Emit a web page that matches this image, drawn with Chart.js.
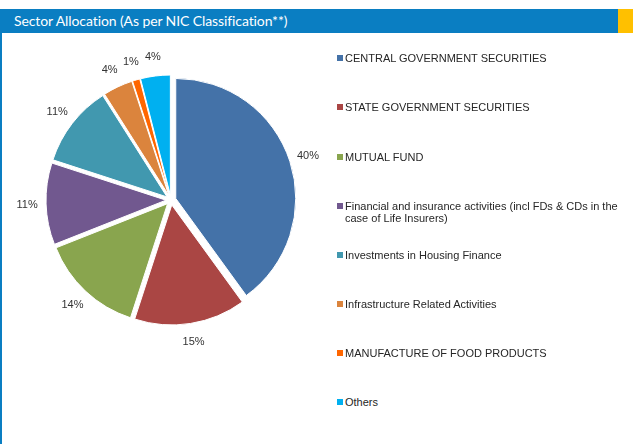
<!DOCTYPE html>
<html lang="en">
<head>
    <meta charset="UTF-8">
    <title>Sector Allocation</title>
    <script src="https://cdn.jsdelivr.net/npm/chart.js"></script>
    <style>
        body { margin: 0; width: 633px; height: 444px; position: relative; background: #fff; overflow: hidden; }
        .bar { position: absolute; top: 9px; left: 0; width: 618px; height: 24px; background: #0a7ec2; }
        .bar span { position: absolute; left: 14px; top: 3px; color: #fff; font-family: Lato, sans-serif; font-size: 14px; letter-spacing: -0.1px; }
        .tab { position: absolute; top: 9px; left: 618px; width: 15px; height: 24px; background: #ffc000; }
        .edge { position: absolute; top: 33px; left: 0; width: 2px; height: 411px; background: #0a7ec2; }
        #chartBox { position: absolute; left: 0; top: 33px; width: 342px; height: 334px; }
        #legend { position: absolute; left: 337px; top: 0; width: 290px; font-family: "Liberation Sans", Arial, sans-serif; font-size: 11px; color: #262626; }
        #legend div { position: absolute; left: 0; width: 285px; line-height: 12px; }
        #legend i { position: absolute; left: 0; top: 3px; width: 6px; height: 6px; }
        #legend div span { display: block; margin-left: 8px; }
    </style>
</head>
<body>
    <div class="bar"><span>Sector Allocation (As per NIC Classification**)</span></div>
    <div class="tab"></div>
    <div class="edge"></div>
    <div id="chartBox"><canvas id="sectorChart"></canvas></div>
    <div id="legend"></div>

    <script>
        // sector labels and share of portfolio (%)
        const sectors = [
            'CENTRAL GOVERNMENT SECURITIES',
            'STATE GOVERNMENT SECURITIES',
            'MUTUAL FUND',
            'Financial and insurance activities (incl FDs & CDs in the case of Life Insurers)',
            'Investments in Housing Finance',
            'Infrastructure Related Activities',
            'MANUFACTURE OF FOOD PRODUCTS',
            'Others'
        ];
        const shares = [40, 15, 14, 11, 11, 4, 1, 4];
        const colours = ['#4472a8', '#aa4644', '#89a54e', '#71588f', '#4198af', '#db843d', '#ff6600', '#00b0f0'];

        const EXPLODE = 5;

        // draw each slice pushed out along its middle angle (exploded pie)
        const explode = {
            id: 'explode',
            beforeDatasetsDraw(chart) {
                const ctx = chart.ctx;
                chart.getDatasetMeta(0).data.forEach(arc => {
                    const mid = (arc.startAngle + arc.endAngle) / 2;
                    ctx.save();
                    ctx.translate(Math.cos(mid) * EXPLODE, Math.sin(mid) * EXPLODE);
                    arc.draw(ctx);
                    ctx.restore();
                });
                return false;
            }
        };

        // percent labels outside each slice
        const outsideLabels = {
            id: 'outsideLabels',
            afterDraw(chart) {
                const ctx = chart.ctx;
                const meta = chart.getDatasetMeta(0);
                ctx.save();
                ctx.font = '11px "Liberation Sans", Arial, sans-serif';
                ctx.fillStyle = '#333';
                ctx.textAlign = 'center';
                ctx.textBaseline = 'middle';
                meta.data.forEach((arc, i) => {
                    const mid = (arc.startAngle + arc.endAngle) / 2;
                    const r = arc.outerRadius + 19 + EXPLODE;
                    ctx.fillText(shares[i] + '%', arc.x + Math.cos(mid) * r, arc.y + Math.sin(mid) * r);
                });
                ctx.restore();
            }
        };

        new Chart(document.getElementById('sectorChart'), {
            type: 'pie',
            data: {
                labels: sectors,
                datasets: [{
                    data: shares,
                    backgroundColor: colours,
                    borderColor: '#fff',
                    borderWidth: 1
                }]
            },
            options: {
                responsive: true,
                maintainAspectRatio: false,
                animation: false,
                radius: 120,
                layout: { padding: 0 },
                plugins: {
                    legend: { display: false },
                    tooltip: { enabled: false }
                }
            },
            plugins: [explode, outsideLabels]
        });

        // legend on the right, one row every ~49px
        const legendTops = [52, 101, 151, 200, 249, 298, 347, 396];
        const legend = document.getElementById('legend');
        sectors.forEach((name, i) => {
            const row = document.createElement('div');
            row.style.top = legendTops[i] + 'px';
            const box = document.createElement('i');
            box.style.background = colours[i];
            const text = document.createElement('span');
            text.textContent = name;
            row.appendChild(box);
            row.appendChild(text);
            legend.appendChild(row);
        });
    </script>
</body>
</html>
